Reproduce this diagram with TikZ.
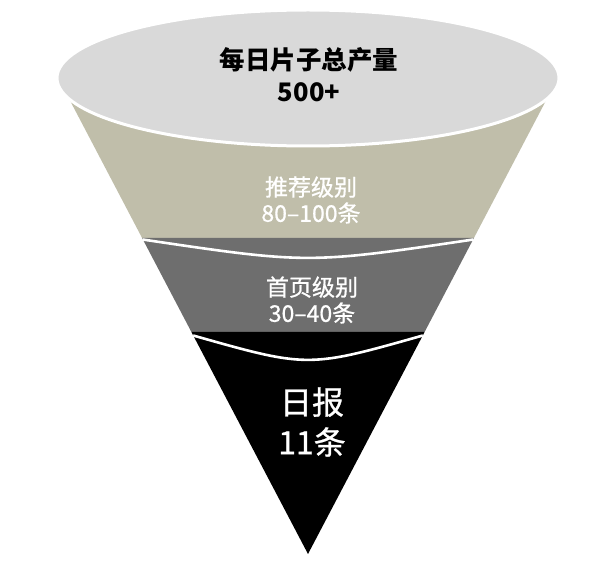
\documentclass[tikz,border=0pt]{standalone}
\usepackage{fontspec}
\newfontfamily\cjk{Noto Sans CJK SC}
\newfontfamily\cjkm[FakeBold=0.8]{Noto Sans CJK SC}
\definecolor{topgray}{RGB}{217,217,217}
\definecolor{tanband}{RGB}{192,190,170}
\definecolor{midband}{RGB}{110,110,110}
\tikzset{
  sep/.style={white, line width=2.6pt},
  lbl/.style={align=center, inner sep=0pt, text=white},
}
\begin{document}
\begin{tikzpicture}[x=1pt,y=-1pt]
\useasboundingbox (0,0) rectangle (603,564);
% bands
\fill[tanband] (69.7,100) -- (546.3,100) -- (473.9,238) -- (142.1,238) -- cycle;
\fill[midband] (142.1,238) -- (473.9,238) -- (424.6,332) -- (191.4,332) -- cycle;
\fill[black] (191.4,332) -- (424.6,332) -- (308,554) -- cycle;
% separators
\draw[sep] (142.6,239.5) .. controls (308,264) .. (473.4,239.5);
\draw[sep] (193.2,335.5) .. controls (308,368) .. (422.8,335.5);
% top ellipse
\draw[white, line width=3pt, fill=topgray] (308,78) ellipse [x radius=251, y radius=68];
% labels
\node[lbl, text=black, font=\cjk\bfseries\fontsize{25.5}{32}\selectfont] (top) at (309,75) {每日片子总产量\\500+};
\node[lbl, font=\cjkm\fontsize{23}{26}\selectfont] (rec) at (311,200) {推荐级别\\80–100条};
\node[lbl, font=\cjkm\fontsize{23}{26}\selectfont] (home) at (312,300) {首页级别\\30–40条};
\node[lbl, font=\cjkm\fontsize{32}{40}\selectfont] (daily) at (312,422) {日报\\11条};
\end{tikzpicture}
\end{document}
